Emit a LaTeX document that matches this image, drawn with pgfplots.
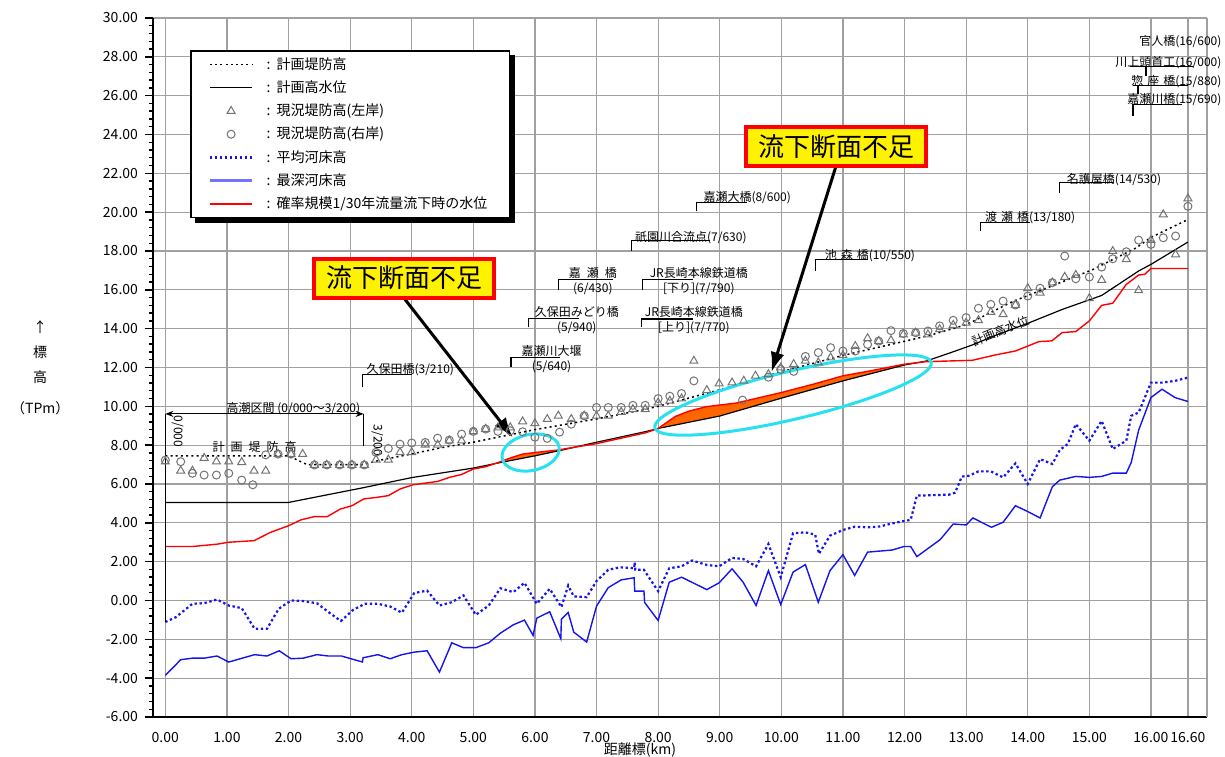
\documentclass[border=0pt]{standalone}
\usepackage{fontspec}
\setmainfont{Noto Sans CJK JP}
\usepackage{pgfplots}
\pgfplotsset{compat=1.18}
\usepgfplotslibrary{fillbetween}
\usetikzlibrary{arrows.meta,shapes.geometric}

\definecolor{gridgray}{RGB}{160,160,160}
\definecolor{ptgray}{RGB}{115,115,115}
\definecolor{bedblue}{RGB}{20,20,235}
\definecolor{legblue}{RGB}{115,115,255}
\definecolor{lackfill}{RGB}{255,102,0}
\definecolor{ringcyan}{RGB}{40,225,240}

\pgfplotsset{
  lineleg/.style={legend image code/.code={\draw[##1] (0pt,0pt) -- (21pt,0pt);}},
  markleg/.style={legend image code/.code={\draw[mark repeat=2,mark phase=2,##1] plot coordinates {(0pt,0pt) (10.5pt,0pt) (21pt,0pt)};}},
}
\tikzset{
  lbl/.style={font=\fontsize{6}{7.4}\selectfont, inner sep=0pt, align=center},
  lead/.style={black, line width=0.6pt},
}

\begin{document}
\begin{tikzpicture}
\begin{axis}[
  scale only axis, width=527pt, height=349.5pt,
  xmin=-0.2, xmax=16.91, ymin=-6, ymax=30,
  xtick={0,1,...,16,16.6},
  ytick={-6,-4,...,30},
  minor y tick num=4,
  xmajorgrids, ymajorgrids,
  grid style={gridgray, line width=0.6pt},
  axis x line*=bottom, axis y line*=left,
  axis line style={black, line width=1.1pt, -},
  tick align=outside,
  major tick length=4pt, minor tick length=2pt,
  xtick style={draw=none},
  ytick style={black, line width=0.7pt},
  /pgf/number format/.cd, fixed, fixed zerofill, precision=2, assume math mode=true,
  /pgfplots/.cd,
  tick label style={font=\fontsize{7}{8}\selectfont},
  clip=false,
  legend cell align=left,
  legend style={name=lgd, at={(0.035,0.954)}, anchor=north west, draw=black, line width=0.9pt,
    fill=white, font=\fontsize{7}{8}\selectfont, row sep=0pt, column sep=3pt,
    inner xsep=9pt, inner ysep=1pt,
    nodes={inner ysep=1.9pt, inner xsep=2pt, text height=6.2pt, text depth=1.6pt}},
]

% planned levee crown
\addplot[black, line width=0.75pt, dash pattern=on 1pt off 1.6pt, lineleg] coordinates {
(0,7.45) (2.0,7.45) (2.3,7.0) (3.2,7.0) (3.45,7.2) (4.0,7.55) (4.5,7.88) (5.0,8.15)
(6.0,8.8) (7.0,9.35) (7.8,9.85) (8.0,10.0) (9.0,10.85) (10.0,11.78) (11.0,12.62)
(12.0,13.35) (12.4,13.65) (13.0,14.2) (13.77,15.42) (14.0,15.7) (15.06,17.05)
(15.76,18.16) (16.0,18.7) (16.6,19.62)};
\addlegendentry{\ :\ \ 計画堤防高}

% planned high water level
\addplot[black, line width=0.6pt, name path=hwl, lineleg] coordinates {
(0,5.05) (2.0,5.05) (3.2,5.8) (4.0,6.33) (5.0,6.82) (5.4,7.08) (6.0,7.45) (6.4,7.72)
(7.0,8.15) (7.8,8.7) (8.0,8.86) (9.0,9.5) (10.0,10.42) (11.0,11.31) (12.0,12.13)
(12.35,12.33) (12.8,12.82) (13.1,13.16) (13.48,13.66) (14.02,14.3) (14.56,14.99)
(15.2,15.71) (15.8,16.97) (16.0,17.31) (16.6,18.46)};
\addlegendentry{\ :\ \ 計画高水位}

% existing levee, left bank
\addplot[only marks, mark=triangle, mark size=2.3pt, ptgray, mark options={line width=0.5pt}, markleg] coordinates {
(0,7.15) (0.25,6.68) (0.44,6.68) (0.63,7.34) (0.83,7.15) (1.03,7.15) (1.24,7.12)
(1.44,6.68) (1.63,6.68) (1.83,7.54) (2.04,7.54) (2.23,7.54) (2.42,6.98) (2.62,6.98)
(2.83,6.98) (3.03,6.98) (3.23,6.98) (3.42,7.25) (3.62,7.25) (3.81,7.63) (4.0,7.63)
(4.22,8.02) (4.42,8.02) (4.61,8.23) (4.81,8.23) (5.0,8.71) (5.2,8.83) (5.4,8.91)
(5.6,8.91) (5.8,9.22) (6.0,9.12) (6.2,9.34) (6.38,9.51) (6.59,9.34) (6.8,9.51)
(7.0,9.51) (7.19,9.51) (7.4,9.71) (7.59,9.85) (7.79,9.85) (8.0,10.19) (8.19,10.28)
(8.38,10.4) (8.58,12.34) (8.79,10.83) (8.99,11.17) (9.2,11.22) (9.39,11.31)
(9.58,11.57) (9.79,11.65) (9.99,11.99) (10.2,12.17) (10.39,12.34) (10.6,12.25)
(10.8,12.51) (11.0,12.62) (11.2,13.1) (11.4,13.5) (11.58,13.36) (11.78,13.4)
(11.98,13.7) (12.18,13.79) (12.38,13.7) (12.57,13.97) (12.79,14.19) (13.0,14.3)
(13.2,14.43) (13.4,14.86) (13.6,14.74) (13.8,15.22) (14.0,16.08) (14.2,15.85)
(14.4,16.37) (14.6,16.66) (14.78,16.76) (15.0,15.56) (15.2,16.5) (15.38,17.99)
(15.6,17.57) (15.8,15.97) (16.0,18.56) (16.2,19.88) (16.4,17.82) (16.6,20.7)};
\addlegendentry{\ :\ \ 現況堤防高(左岸)}

% existing levee, right bank
\addplot[only marks, mark=o, mark size=2pt, ptgray, mark options={line width=0.5pt}, markleg] coordinates {
(0,7.23) (0.25,7.15) (0.44,6.55) (0.63,6.46) (0.83,6.46) (1.03,6.55) (1.24,6.2)
(1.42,5.96) (1.63,7.5) (1.83,7.54) (2.04,7.54) (2.42,6.98) (2.62,6.98) (2.83,6.98)
(3.03,6.98) (3.23,6.98) (3.42,7.63) (3.62,7.83) (3.81,8.05) (4.0,8.11) (4.22,8.14)
(4.42,8.36) (4.61,8.26) (4.81,8.57) (5.0,8.71) (5.2,8.83) (5.4,8.71) (5.6,8.74)
(5.8,8.69) (6.0,8.41) (6.2,8.35) (6.4,8.67) (6.59,9.08) (6.8,9.51) (7.0,9.94)
(7.19,9.94) (7.4,9.94) (7.59,10.05) (7.79,10.05) (8.0,10.4) (8.19,10.52) (8.38,10.66)
(8.58,11.31) (9.37,10.32) (9.79,11.5) (9.99,11.9) (10.2,11.8) (10.39,12.57)
(10.6,12.77) (10.8,13.02) (11.0,12.85) (11.2,12.85) (11.4,13.19) (11.58,13.36)
(11.78,13.9) (11.98,13.75) (12.18,13.79) (12.38,13.88) (12.57,14.14) (12.79,14.43)
(13.0,14.57) (13.2,15.05) (13.4,15.25) (13.6,15.42) (13.8,15.22) (14.0,15.68)
(14.2,16.08) (14.4,16.37) (14.6,17.74) (14.78,16.57) (15.0,16.66) (15.2,17.17)
(15.38,17.6) (15.6,17.96) (15.8,18.56) (16.0,18.34) (16.2,18.68) (16.4,18.77) (16.6,20.3)};
\addlegendentry{\ :\ \ 現況堤防高(右岸)}

% mean bed level
\addplot[bedblue, line width=1.1pt, dash pattern=on 1.2pt off 1.3pt, lineleg] coordinates {
(0,-1.11) (0.17,-0.86) (0.44,-0.17) (0.63,-0.14) (0.84,0.05) (1.03,-0.26) (1.24,-0.39)
(1.45,-1.46) (1.65,-1.46) (1.84,-0.43) (2.04,0.0) (2.24,-0.03) (2.46,-0.14) (2.65,-0.6)
(2.85,-1.06) (3.05,-0.48) (3.24,-0.17) (3.45,-0.17) (3.65,-0.31) (3.84,-0.63) (4.04,0.38)
(4.25,0.51) (4.45,-0.26) (4.65,-0.09) (4.84,0.26) (5.04,-0.74) (5.25,-0.26) (5.44,0.63)
(5.65,0.43) (5.83,0.91) (6.03,-0.17) (6.24,0.6) (6.43,-0.34) (6.54,0.77) (6.63,0.21)
(6.84,0.17) (7.0,1.0) (7.19,1.58) (7.38,1.71) (7.61,1.66) (7.62,1.97) (7.63,1.58)
(7.77,1.58) (8.0,0.48) (8.18,1.66) (8.38,1.76) (8.55,2.06) (8.79,1.83) (8.99,1.76)
(9.2,2.19) (9.38,2.14) (9.59,1.76) (9.79,2.91) (9.99,1.2) (10.19,3.46) (10.39,3.51)
(10.55,3.39) (10.61,2.4) (10.79,3.34) (11.0,3.63) (11.19,3.8) (11.4,3.77) (11.6,3.81)
(11.8,3.97) (12.0,4.1) (12.1,4.15) (12.2,5.4) (12.72,5.45) (12.82,5.55) (12.93,6.38)
(13.05,6.43) (13.2,6.65) (13.4,6.65) (13.6,6.34) (13.8,7.06) (14.0,6.0) (14.2,7.28)
(14.4,7.03) (14.52,7.75) (14.65,8.06) (14.78,9.08) (15.0,8.23) (15.2,9.25) (15.38,7.8)
(15.6,8.23) (15.68,9.51) (15.8,9.68) (16.0,11.22) (16.18,11.22) (16.39,11.31) (16.6,11.48)};
\addlegendentry{\ :\ \ 平均河床高}

% deepest bed level
\addplot[bedblue, line width=0.7pt, legend image code/.code={\draw[legblue, line width=1.3pt] (0pt,0pt) -- (21pt,0pt);}] coordinates {
(0,-3.86) (0.25,-3.05) (0.44,-2.97) (0.63,-2.97) (0.84,-2.86) (1.03,-3.17) (1.25,-2.97)
(1.45,-2.79) (1.65,-2.86) (1.85,-2.59) (2.04,-3.0) (2.24,-2.97) (2.46,-2.79) (2.65,-2.86)
(2.86,-2.86) (3.2,-3.17) (3.21,-2.95) (3.45,-2.79) (3.65,-3.0) (3.84,-2.79) (4.04,-2.66)
(4.25,-2.59) (4.45,-3.69) (4.65,-2.18) (4.84,-2.43) (5.04,-2.43) (5.25,-2.18) (5.44,-1.68)
(5.65,-1.25) (5.83,-1.01) (5.97,-1.8) (6.03,-0.91) (6.24,-0.58) (6.42,-1.97) (6.43,-0.96)
(6.54,-0.62) (6.63,-1.63) (6.84,-2.14) (7.0,-0.29) (7.19,0.66) (7.4,1.06) (7.61,1.17)
(7.62,0.48) (7.77,0.48) (7.78,-0.1) (8.0,-1.03) (8.18,0.94) (8.38,1.2) (8.79,0.56)
(8.99,0.91) (9.2,1.63) (9.38,0.94) (9.59,-0.26) (9.79,1.54) (9.99,-0.21) (10.19,1.46)
(10.39,1.85) (10.6,-0.09) (10.79,1.54) (11.0,2.36) (11.19,1.29) (11.4,2.49) (11.8,2.6)
(11.99,2.78) (12.1,2.78) (12.2,2.26) (12.58,3.14) (12.79,3.94) (13.0,3.89) (13.11,4.25)
(13.41,3.77) (13.6,4.03) (13.8,4.88) (14.0,4.58) (14.2,4.25) (14.4,5.86) (14.52,6.2)
(14.78,6.39) (15.0,6.34) (15.2,6.39) (15.38,6.56) (15.6,6.56) (15.68,7.11) (15.8,8.77)
(16.0,10.45) (16.18,10.88) (16.39,10.45) (16.6,10.25)};
\addlegendentry{\ :\ \ 最深河床高}

% water level at the 1/30 flood discharge
\addplot[red, line width=0.7pt, name path=wl, lineleg] coordinates {
(0,2.78) (0.44,2.78) (0.84,2.9) (1.03,3.0) (1.44,3.08) (1.7,3.5) (2.0,3.85) (2.2,4.15)
(2.42,4.32) (2.63,4.32) (2.84,4.71) (3.03,4.88) (3.22,5.23) (3.43,5.31) (3.62,5.4)
(3.81,5.74) (4.02,5.96) (4.42,6.13) (4.61,6.34) (4.8,6.48) (5.0,6.77) (5.2,6.89)
(5.4,7.1) (5.6,7.34) (5.8,7.54) (6.0,7.62) (6.35,7.74) (7.0,8.08) (7.8,8.64) (8.0,8.86)
(8.28,9.48) (8.5,9.75) (8.78,9.98) (9.27,10.17) (10.0,10.71) (10.52,11.14) (11.0,11.57)
(11.45,11.83) (12.0,12.17) (12.35,12.3) (13.1,12.37) (13.48,12.65) (13.8,12.85)
(14.18,13.33) (14.39,13.37) (14.56,13.8) (14.78,13.85) (15.0,14.4) (15.2,15.2)
(15.38,15.31) (15.6,16.28) (15.8,16.76) (15.9,16.8) (16.0,17.1) (16.6,17.1)};
\addlegendentry{\ :\ \ 確率規模1/30年流量流下時の水位}

% sections where the water level exceeds the planned high water level
\addplot[lackfill, draw=none, forget plot] fill between[of=wl and hwl, soft clip={domain=5.45:6.4}];
\addplot[lackfill, draw=none, forget plot] fill between[of=wl and hwl, soft clip={domain=7.98:12.35}];

% right border of the frame
\draw[gridgray, line width=0.6pt] (rel axis cs:1,0) -- (rel axis cs:1,1);

% storm surge section
\draw[black, line width=0.6pt, {Stealth[length=4pt,width=3pt]}-{Stealth[length=4pt,width=3pt]}] (axis cs:0,9.61) -- (axis cs:3.22,9.61);
\draw[lead] (axis cs:0,9.61) -- (axis cs:0,-1.1);
\draw[lead] (axis cs:3.22,9.61) -- (axis cs:3.22,7.98);
\node[lbl] at (axis cs:2.08,9.89) {高潮区間\ (0/000～3/200)};
\node[lbl, rotate=-90] at (axis cs:0.2,8.7) {0/000};
\node[lbl, rotate=-90] at (axis cs:3.44,8.24) {3/200};
\node[lbl] at (axis cs:1.45,7.9) {計\hspace{3pt}画\hspace{3pt}堤\hspace{3pt}防\hspace{3pt}高};
\node[lbl, rotate=22] at (axis cs:13.56,13.9) {計画高水位};

% bridges and structures
\draw[lead] (axis cs:3.2,10.97) |- (axis cs:4.0,11.64);
\node[lbl, anchor=west] at (axis cs:3.26,11.9) {久保田橋(3/210)};
\draw[lead] (axis cs:5.61,12.01) |- (axis cs:6.4,12.53);
\node[lbl] at (axis cs:6.27,12.42) {嘉瀬川大堰\\(5/640)};
\draw[lead] (axis cs:5.9,14.07) |- (axis cs:6.72,14.54);
\node[lbl] at (axis cs:6.68,14.43) {久保田みどり橋\\(5/940)};
\draw[lead] (axis cs:6.38,16.01) |- (axis cs:7.26,16.53);
\node[lbl] at (axis cs:6.94,16.45) {嘉\hspace{3pt}瀬\hspace{3pt}橋\\(6/430)};
\draw[lead] (axis cs:7.73,14.07) |- (axis cs:8.56,14.5);
\node[lbl] at (axis cs:8.58,14.42) {JR長崎本線鉄道橋\\{[}上り{]}(7/770)};
\draw[lead] (axis cs:7.75,16.01) |- (axis cs:8.56,16.53);
\node[lbl] at (axis cs:8.66,16.45) {JR長崎本線鉄道橋\\{[}下り{]}(7/790)};
\draw[lead] (axis cs:7.57,18.02) |- (axis cs:8.84,18.54);
\node[lbl, anchor=west] at (axis cs:7.62,18.71) {祇園川合流点(7/630)};
\draw[lead] (axis cs:8.62,20.05) |- (axis cs:9.45,20.51);
\node[lbl, anchor=west] at (axis cs:8.73,20.75) {嘉瀬大橋(8/600)};
\draw[lead] (axis cs:10.56,16.99) |- (axis cs:11.4,17.56);
\node[lbl, anchor=west] at (axis cs:10.7,17.77) {池\hspace{2pt}森\hspace{2pt}橋(10/550)};
\draw[lead] (axis cs:13.23,19.02) |- (axis cs:14.03,19.48);
\node[lbl, anchor=west] at (axis cs:13.3,19.74) {渡\hspace{2pt}瀬\hspace{2pt}橋(13/180)};
\draw[lead] (axis cs:14.52,21.01) |- (axis cs:15.38,21.52);
\node[lbl, anchor=west] at (axis cs:14.63,21.68) {名護屋橋(14/530)};
\node[lbl, anchor=east] at (axis cs:17.15,28.8) {官人橋(16/600)};
\draw[lead] (axis cs:15.92,27.03) -- (axis cs:15.92,27.51);
\draw[lead] (axis cs:15.66,27.51) -- (axis cs:16.68,27.51);
\node[lbl, anchor=east] at (axis cs:17.15,27.72) {川上頭首工(16/000)};
\draw[lead] (axis cs:15.79,26.11) -- (axis cs:15.79,26.52);
\draw[lead] (axis cs:15.71,26.52) -- (axis cs:16.6,26.52);
\node[lbl, anchor=east] at (axis cs:17.15,26.74) {惣\hspace{2pt}座\hspace{2pt}橋(15/880)};
\draw[lead] (axis cs:15.71,24.97) |- (axis cs:16.5,25.54);
\node[lbl, anchor=east] at (axis cs:17.15,25.78) {嘉瀬川橋(15/690)};

% flow capacity shortfall callouts
\node[draw=ringcyan, line width=1.5pt, ellipse, minimum width=29pt, minimum height=18pt, inner sep=0pt, rotate=12] at (axis cs:5.93,7.62) {};
\node[draw=ringcyan, line width=1.5pt, ellipse, minimum width=142pt, minimum height=24pt, inner sep=0pt, rotate=13.3] at (axis cs:10.19,10.58) {};
\draw[black, line width=1.5pt, -{Latex[length=10pt,width=7pt]}] (axis cs:3.88,15.55) -- (axis cs:5.64,8.4);
\draw[black, line width=1.5pt, -{Latex[length=10pt,width=7pt]}] (axis cs:10.89,22.4) -- (axis cs:9.84,11.76);
\node[draw=red, line width=2pt, fill=yellow, font=\fontsize{13}{15}\selectfont, minimum width=90pt, minimum height=19.5pt, inner sep=1pt] at (axis cs:3.88,16.6) {流下断面不足};
\node[draw=red, line width=2pt, fill=yellow, font=\fontsize{13}{15}\selectfont, minimum width=90pt, minimum height=19.5pt, inner sep=1pt] at (axis cs:10.89,23.38) {流下断面不足};

% axis titles
\node[font=\fontsize{7}{12.5}\selectfont, align=center] at (rel axis cs:-0.107,0.5) {↑\\標\\高\\[3pt]（TPm）};
\node[font=\fontsize{7}{8}\selectfont] at (rel axis cs:0.462,-0.047) {距離標(km)};

\coordinate (bbsw) at (rel axis cs:0,0);
\coordinate (bbne) at (rel axis cs:1,1);
\end{axis}
% drop shadow of the legend frame
\fill[black] ([yshift=-2.4pt]lgd.north east) rectangle ([xshift=2.4pt,yshift=-2.4pt]lgd.south east);
\fill[black] ([xshift=2.4pt]lgd.south west) rectangle ([xshift=2.4pt,yshift=-2.4pt]lgd.south east);
\pgfresetboundingbox
\path[use as bounding box] ([shift={(-76.5pt,-20pt)}]bbsw) rectangle ([shift={(9pt,9pt)}]bbne);
\end{tikzpicture}
\end{document}
